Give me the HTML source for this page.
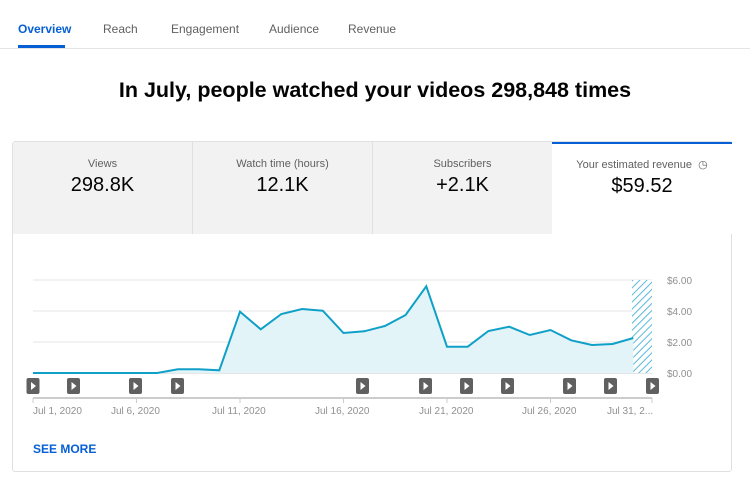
<!DOCTYPE html>
<html><head><style>
*{margin:0;padding:0;box-sizing:border-box}
body{width:750px;height:480px;background:#fff;font-family:"Liberation Sans",sans-serif;position:relative;overflow:hidden;color:#030303}
.tab{position:absolute;top:22px;font-size:12px;color:#606060}
.card{position:absolute;left:12px;top:141px;width:720px;height:331px;border:1px solid #e0e0e0;border-radius:3px}
.m{position:absolute;top:0;height:92px;width:180px;background:#f2f2f2;border-right:1px solid #e0e0e0;text-align:center}
.m .l{margin-top:16px;font-size:11px;color:#606060}
.m .v{margin-top:4px;font-size:20px;color:#030303}
</style></head><body>
<div class="tab" style="left:18px;color:#065fd4;font-weight:bold">Overview</div>
<div style="position:absolute;left:18px;top:45px;width:47px;height:3px;background:#065fd4"></div>
<div class="tab" style="left:103px">Reach</div>
<div class="tab" style="left:171px">Engagement</div>
<div class="tab" style="left:269px">Audience</div>
<div class="tab" style="left:348px">Revenue</div>
<div style="position:absolute;left:0;top:48px;width:750px;height:1px;background:#e5e5e5"></div>
<div style="position:absolute;left:0;top:78px;width:750px;text-align:center;font-size:21.5px;font-weight:bold">In July, people watched your videos 298,848 times</div>
<div class="card">
<div class="m" style="left:0"><div class="l">Views</div><div class="v">298.8K</div></div>
<div class="m" style="left:180px"><div class="l">Watch time (hours)</div><div class="v">12.1K</div></div>
<div class="m" style="left:360px"><div class="l">Subscribers</div><div class="v">+2.1K</div></div>
<div class="m" style="left:539px;width:180px;background:#fff;border-right:none;border-top:2px solid #065fd4"><div class="l" style="margin-top:14px">Your estimated revenue &nbsp;◷</div><div class="v">$59.52</div></div>
</div>
<svg style="position:absolute;left:0;top:0" width="750" height="480">
<defs><pattern id="h" width="5" height="5" patternUnits="userSpaceOnUse" patternTransform="rotate(45)"><rect width="5" height="5" fill="#fff"/><line x1="0" y1="0" x2="0" y2="5" stroke="#5bb8dc" stroke-width="2"/></pattern></defs>
<g stroke="#e5e5e5" stroke-width="1"><line x1="33" y1="280" x2="652" y2="280"/><line x1="33" y1="311" x2="652" y2="311"/><line x1="33" y1="342" x2="652" y2="342"/><line x1="33" y1="373" x2="652" y2="373" stroke="#ccc"/></g>
<rect x="632" y="280" width="20" height="93" fill="url(#h)"/>
<polygon fill="#e3f4f9" points="33,373 53.7,373 74.4,373 95.1,373 115.8,373 136.5,373 157.2,373 177.9,369.3 198.6,369.3 219.3,370.3 240,311.7 260.7,329.3 281.4,314 302.1,309 322.8,310.7 343.5,333 364.2,331.3 384.9,326 405.6,315 426.3,286.3 447,346.7 467.7,346.7 488.4,331 509.1,326.7 529.8,335 550.5,330 571.2,340.3 591.9,345 612.6,344 633.3,338 633.3,373"/>
<polyline fill="none" stroke="#0fa0c8" stroke-width="2" points="33,373 53.7,373 74.4,373 95.1,373 115.8,373 136.5,373 157.2,373 177.9,369.3 198.6,369.3 219.3,370.3 240,311.7 260.7,329.3 281.4,314 302.1,309 322.8,310.7 343.5,333 364.2,331.3 384.9,326 405.6,315 426.3,286.3 447,346.7 467.7,346.7 488.4,331 509.1,326.7 529.8,335 550.5,330 571.2,340.3 591.9,345 612.6,344 633.3,338"/>
<g font-size="10" fill="#909090"><text x="667" y="284">$6.00</text><text x="667" y="315">$4.00</text><text x="667" y="346">$2.00</text><text x="667" y="377">$0.00</text></g>
<g fill="#606060">
<rect x="26.5" y="378" width="13" height="16" rx="2"/><rect x="67" y="378" width="13" height="16" rx="2"/><rect x="129" y="378" width="13" height="16" rx="2"/><rect x="171" y="378" width="13" height="16" rx="2"/><rect x="356" y="378" width="13" height="16" rx="2"/><rect x="419" y="378" width="13" height="16" rx="2"/><rect x="460" y="378" width="13" height="16" rx="2"/><rect x="501" y="378" width="13" height="16" rx="2"/><rect x="563" y="378" width="13" height="16" rx="2"/><rect x="604" y="378" width="13" height="16" rx="2"/><rect x="646" y="378" width="13" height="16" rx="2"/></g>
<g fill="#fff"><path d="M31,382l5,4l-5,4z"/><path d="M71.5,382l5,4l-5,4z"/><path d="M133.5,382l5,4l-5,4z"/><path d="M175.5,382l5,4l-5,4z"/><path d="M360.5,382l5,4l-5,4z"/><path d="M423.5,382l5,4l-5,4z"/><path d="M464.5,382l5,4l-5,4z"/><path d="M505.5,382l5,4l-5,4z"/><path d="M567.5,382l5,4l-5,4z"/><path d="M608.5,382l5,4l-5,4z"/><path d="M650.5,382l5,4l-5,4z"/></g>
<line x1="33" y1="398" x2="652" y2="398" stroke="#ccc" stroke-width="2"/>
<g stroke="#ccc"><line x1="33" y1="398" x2="33" y2="403"/><line x1="136.5" y1="398" x2="136.5" y2="403"/><line x1="240" y1="398" x2="240" y2="403"/><line x1="343.5" y1="398" x2="343.5" y2="403"/><line x1="447" y1="398" x2="447" y2="403"/><line x1="550.5" y1="398" x2="550.5" y2="403"/><line x1="652" y1="398" x2="652" y2="403"/></g>
<g font-size="10" fill="#909090"><text x="33" y="414">Jul 1, 2020</text><text x="111" y="414">Jul 6, 2020</text><text x="212" y="414">Jul 11, 2020</text><text x="315" y="414">Jul 16, 2020</text><text x="419" y="414">Jul 21, 2020</text><text x="522" y="414">Jul 26, 2020</text><text x="607" y="414">Jul 31, 2...</text></g>
<text x="33" y="453" font-size="12" font-weight="bold" fill="#065fd4">SEE MORE</text>
</svg>
</body></html>
